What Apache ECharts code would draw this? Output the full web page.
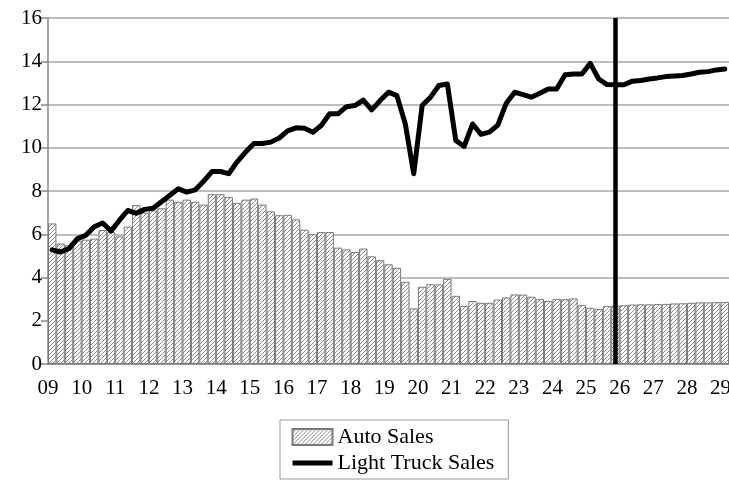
<!DOCTYPE html>
<html>
<head>
<meta charset="utf-8">
<script src="https://cdn.jsdelivr.net/npm/echarts@6/dist/echarts.min.js"></script>
<style>
  html, body { margin: 0; padding: 0; background: #fff; }
  #chart { width: 729px; height: 482px; }
</style>
</head>
<body>
<div id="chart"></div>
<script>
const FONT = '"Liberation Serif", "Times New Roman", serif';

// quarters from 2009Q3 onward, one bar per quarter
const startYear = 2009;
const startQuarter = 3;
const yearLabels = ['09', '10', '11', '12', '13', '14', '15', '16', '17', '18', '19',
    '20', '21', '22', '23', '24', '25', '26', '27', '28', '29'];

const autoSales = [
    6.5, 5.57, 5.5, 5.7, 5.75, 5.8, 6.2, 6.1, 5.9, 6.35,
    7.35, 7.0, 7.1, 7.2, 7.6, 7.5, 7.6, 7.5, 7.37, 7.85,
    7.85, 7.72, 7.45, 7.6, 7.65, 7.37, 7.06, 6.88, 6.9, 6.69,
    6.21, 6.0, 6.1, 6.1, 5.38, 5.3, 5.18, 5.34, 4.98, 4.8,
    4.61, 4.45, 3.8, 2.57, 3.57, 3.69, 3.68, 3.94, 3.15, 2.68,
    2.91, 2.83, 2.83, 2.98, 3.08, 3.22, 3.21, 3.11, 3.0, 2.92,
    3.01, 3.0, 3.03, 2.72, 2.6, 2.54, 2.68, 2.7, 2.72, 2.75,
    2.76, 2.76, 2.77, 2.78, 2.8, 2.81, 2.83, 2.85, 2.85, 2.86,
    2.87
];

const lightTruckSales = [
    5.28, 5.18, 5.34, 5.8, 5.95, 6.35, 6.52, 6.15, 6.65, 7.1,
    6.97, 7.15, 7.2, 7.5, 7.8, 8.1, 7.95, 8.05, 8.45, 8.9,
    8.9, 8.8, 9.35, 9.8, 10.2, 10.2, 10.26, 10.45, 10.78, 10.92,
    10.9, 10.72, 11.03, 11.57, 11.57, 11.9, 11.95, 12.2, 11.75, 12.18,
    12.57, 12.41, 11.1, 8.8, 11.95, 12.34, 12.88, 12.95, 10.34, 10.06,
    11.1, 10.62, 10.72, 11.05, 12.05, 12.57, 12.46, 12.34, 12.52, 12.72,
    12.72, 13.38, 13.41, 13.41, 13.9, 13.18, 12.92, 12.91, 12.91, 13.08,
    13.11, 13.18, 13.23, 13.29, 13.32, 13.34, 13.41, 13.49, 13.52, 13.6,
    13.64
];

// forecast start marker (2026Q2)
const forecastStart = '2026Q2';

const quarters = [];
for (let k = 0; k < autoSales.length; k++) {
    const q = startQuarter - 1 + k;
    quarters.push((startYear + Math.floor(q / 4)) + 'Q' + (q % 4 + 1));
}

function hatch() {
    const s = 4;
    const c = document.createElement('canvas');
    c.width = s; c.height = s;
    const ctx = c.getContext('2d');
    ctx.fillStyle = '#ffffff';
    ctx.fillRect(0, 0, s, s);
    ctx.strokeStyle = '#8a8a8a';
    ctx.lineWidth = 1;
    ctx.beginPath();
    ctx.moveTo(0, s); ctx.lineTo(s, 0);
    ctx.moveTo(-1, 1); ctx.lineTo(1, -1);
    ctx.moveTo(s - 1, s + 1); ctx.lineTo(s + 1, s - 1);
    ctx.stroke();
    return c;
}

const chart = echarts.init(document.getElementById('chart'), null, { renderer: 'canvas' });

chart.setOption({
    animation: false,
    textStyle: { fontFamily: FONT, color: '#000' },
    grid: { left: 48, right: 0, top: 18, bottom: 118, outerBoundsMode: 'none', containLabel: false },
    legend: {
        orient: 'vertical',
        left: 280,
        top: 420,
        padding: [6, 14, 5, 10],
        itemGap: 4,
        itemWidth: 40,
        itemHeight: 16,
        borderColor: '#999',
        borderWidth: 1,
        textStyle: { fontFamily: FONT, fontSize: 22, color: '#000' },
        data: [
            { name: 'Auto Sales', icon: 'rect' },
            {
                name: 'Light Truck Sales',
                itemStyle: { opacity: 0 },
                lineStyle: { width: 5, color: '#000', cap: 'butt' }
            }
        ]
    },
    xAxis: [{
        type: 'category',
        data: quarters,
        boundaryGap: true,
        axisLine: { lineStyle: { color: '#888', width: 1.5 } },
        axisTick: {
            length: 7,
            lineStyle: { color: '#888', width: 1.5 },
            interval: (index) => (index - 2) % 4 === 0
        },
        axisLabel: { show: false },
        splitLine: { show: false }
    }, {
        type: 'value',
        position: 'bottom',
        min: 0,
        max: quarters.length,
        interval: 4,
        axisLine: { show: false },
        axisTick: { show: false },
        splitLine: { show: false },
        axisLabel: {
            margin: 14,
            fontFamily: FONT,
            fontSize: 21,
            color: '#000',
            showMaxLabel: false,
            hideOverlap: false,
            formatter: (v) => (v % 4 === 0 && yearLabels[v / 4]) ? yearLabels[v / 4] : ''
        }
    }],
    yAxis: {
        type: 'value',
        min: 0,
        max: 16,
        interval: 2,
        axisLine: { show: true, lineStyle: { color: '#888', width: 1.5 } },
        axisTick: { show: true, length: 7, lineStyle: { color: '#888', width: 1.5 } },
        axisLabel: { margin: 6, fontFamily: FONT, fontSize: 21, color: '#000' },
        splitLine: { lineStyle: { color: '#a8a8a8', width: 1.5 } }
    },
    series: [{
        name: 'Auto Sales',
        type: 'bar',
        xAxisIndex: 0,
        data: autoSales,
        barCategoryGap: '0%',
        itemStyle: {
            color: { image: hatch(), repeat: 'repeat' },
            borderColor: '#7a7a7a',
            borderWidth: 1
        }
    }, {
        name: 'Light Truck Sales',
        type: 'line',
        xAxisIndex: 0,
        data: lightTruckSales,
        symbol: 'none',
        lineStyle: { color: '#000', width: 5, join: 'round', cap: 'round' },
        itemStyle: { color: '#000' },
        markLine: {
            silent: true,
            symbol: 'none',
            label: { show: false },
            lineStyle: { color: '#000', width: 4.5, type: 'solid' },
            data: [{ xAxis: forecastStart }]
        }
    }]
});
</script>
</body>
</html>
